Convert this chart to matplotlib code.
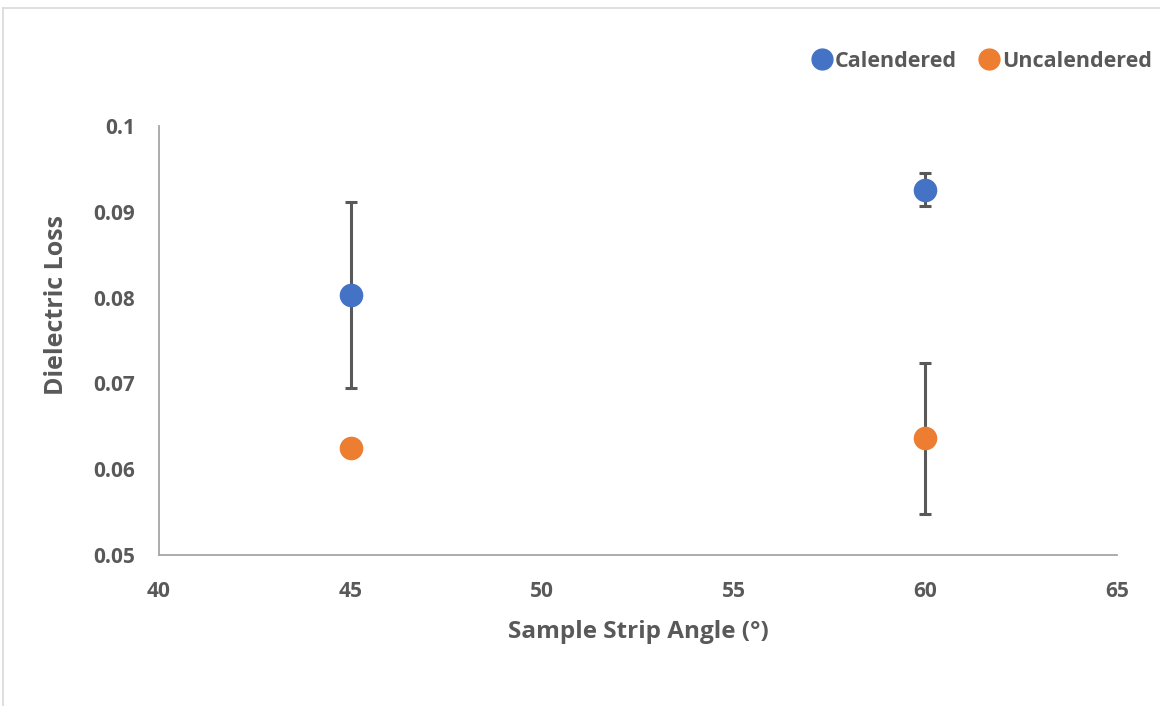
import matplotlib.pyplot as plt
from matplotlib.lines import Line2D

# Data
angles = [45, 60]
calendered = [0.0803, 0.0926]
calendered_err = [0.0108, 0.0019]
uncalendered = [0.0625, 0.0636]
uncalendered_err = [0.0002, 0.0088]

blue = '#4472C4'
orange = '#ED7D31'
gray = '#595959'

plt.rcParams['font.family'] = ['Open Sans', 'DejaVu Sans']
plt.rcParams['font.weight'] = 'bold'

fig = plt.figure(figsize=(11.6, 7.06), dpi=100)
ax = fig.add_axes([0.1371, 0.2139, 0.8258, 0.6076])

for y, err, c in [(calendered, calendered_err, blue), (uncalendered, uncalendered_err, orange)]:
    ax.errorbar(angles, y, yerr=err, fmt='none', ecolor=gray, elinewidth=2.2,
                capsize=4, capthick=2.2, zorder=2)
    ax.plot(angles, y, 'o', color=c, markersize=17, markeredgewidth=0, zorder=3)

ax.set_xlim(40, 65)
ax.set_ylim(0.05, 0.1)
ax.set_xticks([40, 45, 50, 55, 60, 65])
ax.set_yticks([0.05, 0.06, 0.07, 0.08, 0.09, 0.1])
ax.set_yticklabels(['0.05', '0.06', '0.07', '0.08', '0.09', '0.1'])
ax.tick_params(length=0, labelsize=15, colors=gray)
ax.tick_params(axis='x', pad=19)
ax.tick_params(axis='y', pad=17)
for lab in ax.get_xticklabels() + ax.get_yticklabels():
    lab.set_fontweight('bold')

for side in ['top', 'right']:
    ax.spines[side].set_visible(False)
for side in ['left', 'bottom']:
    ax.spines[side].set_color('#A6A6A6')
    ax.spines[side].set_linewidth(1.3)

ax.set_xlabel('Sample Strip Angle (°)', fontsize=17.5, color=gray, fontweight='bold', labelpad=13)
ax.set_ylabel('Dielectric Loss', fontsize=18, color=gray, fontweight='bold')
ax.yaxis.set_label_coords(-0.094, 0.583)

handles = [Line2D([], [], marker='o', linestyle='none', color=blue, markersize=15),
           Line2D([], [], marker='o', linestyle='none', color=orange, markersize=15)]
leg = fig.legend(handles, ['Calendered', 'Uncalendered'], loc='center right',
                 bbox_to_anchor=(1.01, 0.913), ncol=2, frameon=False,
                 fontsize=15.5, handletextpad=0.0, columnspacing=0.9, handlelength=1.2)
for t in leg.get_texts():
    t.set_color(gray)
    t.set_fontweight('bold')

# light border like the screenshot frame
fig.add_artist(Line2D([0.003, 1], [0.989, 0.989], color='#D9D9D9', lw=1.2, transform=fig.transFigure))
fig.add_artist(Line2D([0.003, 0.003], [0, 0.989], color='#D9D9D9', lw=1.2, transform=fig.transFigure))

plt.savefig('out.png', dpi=100)
